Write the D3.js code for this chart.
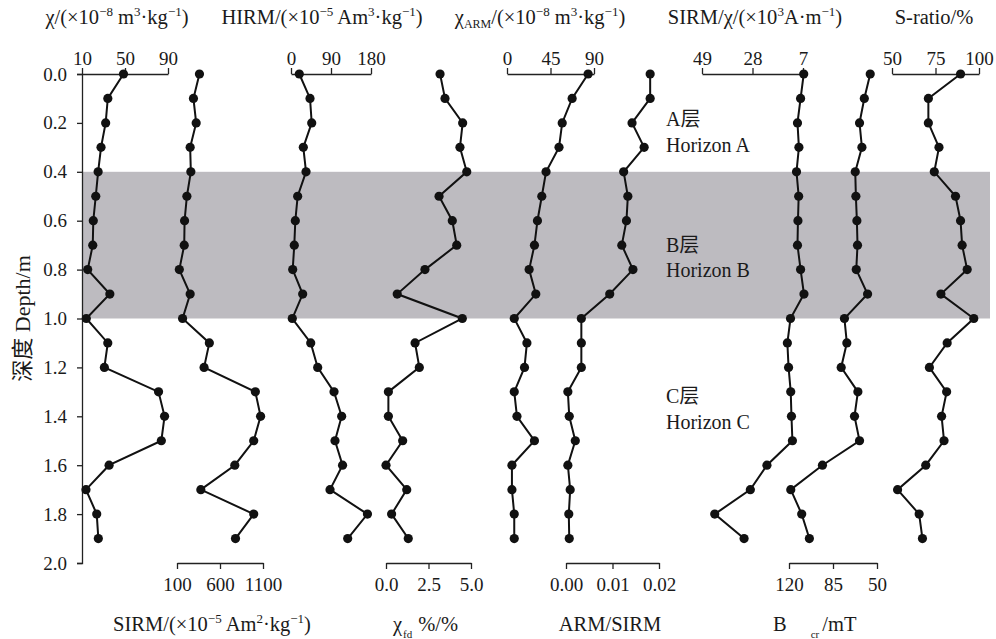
<!DOCTYPE html>
<html>
<head>
<meta charset="utf-8">
<script src="https://cdn.jsdelivr.net/npm/d3@7"></script>
<style>
body { margin: 0; background: #fff; }
svg text { font-family: "Liberation Serif", "Times New Roman", "Noto Sans CJK SC", serif; fill: #1a1a1a; }
.axis path, .axis line { stroke: #222; stroke-width: 1.3; }
</style>
</head>
<body>
<div id="chart"></div>
<script>
// depth of each sample (m)
var depths = [0.0, 0.1, 0.2, 0.3, 0.4, 0.5, 0.6, 0.7, 0.8, 0.9, 1.0, 1.1, 1.2, 1.3, 1.4, 1.5, 1.6, 1.7, 1.8, 1.9];

var chi = [48.6, 34, 32, 27.7, 25, 22.8, 20.5, 20, 15.3, 35.9, 14, 34, 30.8, 81.2, 86.8, 83.8, 35.2, 13.7, 23.7, 25.2];
var sirm = [361, 291, 323, 253, 261, 215, 188, 184, 127, 253, 165, 476, 415, 1011, 1072, 992, 772, 377, 992, 780];
var hirm = [18.7, 42.8, 46.6, 27.7, 33.8, 15, 9.7, 7.4, 3.8, 26.3, 2.9, 44.4, 60, 96.8, 114, 99, 116, 87.8, 172, 127.6];
var chiFd = [3.18, 3.47, 4.51, 4.35, 4.75, 3.12, 3.90, 4.16, 2.29, 0.66, 4.49, 1.71, 1.96, 0.14, 0.14, 0.98, 0.0, 1.22, 0.33, 1.31];
var chiArm = [83.9, 67.4, 57.1, 53.8, 40.4, 36, 31.5, 28.4, 22.9, 29.8, 7.5, 20.6, 18.1, 7.5, 10.3, 28.4, 5.1, 5.1, 7.5, 7.5];
var armSirm = [0.0181, 0.0181, 0.0142, 0.0168, 0.0124, 0.0133, 0.0130, 0.0120, 0.0144, 0.0094, 0.0033, 0.0033, 0.0033, 0.0004, 0.0007, 0.0020, 0.0004, 0.0009, 0.0006, 0.0007];
var sirmChi = [6.7, 8.0, 9.3, 8.7, 9.7, 8.8, 9.1, 9.3, 8.0, 6.6, 12.2, 13.5, 13.0, 12.1, 11.8, 11.4, 22.0, 28.9, 43.7, 31.5];
var bcr = [55.4, 60.1, 63.9, 62, 67.3, 66.8, 66, 65.5, 66.5, 57.5, 75.9, 74, 78.5, 65.2, 67.9, 63.9, 93.4, 118.6, 109.9, 103.8];
var sRatio = [89.4, 70.9, 70.9, 77, 74.3, 86.5, 89.4, 90.3, 93.2, 78.1, 97, 81.7, 71.5, 81.4, 78.5, 79.9, 69.4, 53.2, 65.6, 67.5];

// tick labels
var depthTicks = [0.0, 0.2, 0.4, 0.6, 0.8, 1.0, 1.2, 1.4, 1.6, 1.8, 2.0];
var chiTicks = [10, 50, 90];
var sirmTicks = [100, 600, 1100];
var hirmTicks = [0, 90, 180];
var chiFdTicks = [0, 2.5, 5];
var chiArmTicks = [0, 45, 90];
var armSirmTicks = [0, 0.01, 0.02];
var sirmChiTicks = [49, 28, 7];
var bcrTicks = [120, 85, 50];
var sRatioTicks = [50, 75, 100];

var horizons = [
    { top: 0.0, bottom: 0.4, cn: "A层", en: "Horizon A", textDepth: 0.213, shaded: false },
    { top: 0.4, bottom: 1.0, cn: "B层", en: "Horizon B", textDepth: 0.728, shaded: true },
    { top: 1.0, bottom: 2.0, cn: "C层", en: "Horizon C", textDepth: 1.346, shaded: false }
];

var width = 996, height = 639;
var top0 = 74, bottom0 = 563;
var serif = "'Liberation Serif', 'Times New Roman', 'Noto Sans CJK SC', serif";

var svg = d3.select("#chart").append("svg")
    .attr("width", width)
    .attr("height", height)
    .attr("font-family", serif);

var y = d3.scaleLinear()
    .domain([0, 2])
    .range([top0, bottom0]);

// shaded horizon B
svg.selectAll(".band")
    .data(horizons.filter(function(d) { return d.shaded; }))
    .enter().append("rect")
    .attr("class", "band")
    .attr("x", 82)
    .attr("width", 990 - 82)
    .attr("y", function(d) { return y(d.top); })
    .attr("height", function(d) { return y(d.bottom) - y(d.top); })
    .attr("fill", "#bdbbc0");

// horizon labels
horizons.forEach(function(h) {
    var t = svg.append("text")
        .attr("x", 666)
        .attr("y", y(h.textDepth))
        .attr("font-size", 20);
    t.append("tspan").attr("x", 666).text(h.cn);
    t.append("tspan").attr("x", 666).attr("dy", 25.5).text(h.en);
});

function styleTicks(g) {
    g.attr("font-family", serif);
    g.selectAll("text").attr("font-size", 19).style("fill", "#1a1a1a");
}

// depth axis
var yAxis = d3.axisLeft(y)
    .tickValues(depthTicks)
    .tickSize(5)
    .tickSizeOuter(5)
    .tickPadding(10)
    .tickFormat(d3.format(".1f"));

svg.append("g")
    .attr("class", "axis")
    .attr("transform", "translate(82,0)")
    .call(yAxis)
    .call(styleTicks);

svg.append("text")
    .attr("transform", "translate(30," + ((top0 + bottom0) / 2) + ") rotate(-90)")
    .attr("text-anchor", "middle")
    .attr("font-size", 22)
    .text("深度 Depth/m");

var columns = [
    { values: chi, domain: [10, 90], range: [82, 168], side: "top", ticks: chiTicks, fmt: d3.format("d") },
    { values: sirm, domain: [100, 1100], range: [177, 263], side: "bottom", ticks: sirmTicks, fmt: d3.format("d") },
    { values: hirm, domain: [0, 180], range: [291, 371], side: "top", ticks: hirmTicks, fmt: d3.format("d") },
    { values: chiFd, domain: [0, 5], range: [386, 471], side: "bottom", ticks: chiFdTicks, fmt: d3.format(".1f") },
    { values: chiArm, domain: [0, 90], range: [507, 594], side: "top", ticks: chiArmTicks, fmt: d3.format("d") },
    { values: armSirm, domain: [0, 0.02], range: [566, 659], side: "bottom", ticks: armSirmTicks, fmt: d3.format(".2f") },
    { values: sirmChi, domain: [49, 7], range: [702, 803], side: "top", ticks: sirmChiTicks, fmt: d3.format("d") },
    { values: bcr, domain: [120, 50], range: [789, 877], side: "bottom", ticks: bcrTicks, fmt: d3.format("d") },
    { values: sRatio, domain: [50, 100], range: [892, 979], side: "top", ticks: sRatioTicks, fmt: d3.format("d") }
];

columns.forEach(function(col) {
    var x = d3.scaleLinear().domain(col.domain).range(col.range);

    var axis = (col.side === "top" ? d3.axisTop(x) : d3.axisBottom(x))
        .tickValues(col.ticks)
        .tickSize(6)
        .tickSizeOuter(0)
        .tickPadding(col.side === "top" ? 3 : 9)
        .tickFormat(col.fmt);

    svg.append("g")
        .attr("class", "axis")
        .attr("transform", "translate(0," + (col.side === "top" ? top0 : bottom0) + ")")
        .call(axis)
        .call(styleTicks);

    var pts = depths.map(function(d, i) { return { depth: d, v: col.values[i] }; });

    var line = d3.line()
        .x(function(d) { return x(d.v); })
        .y(function(d) { return y(d.depth); });

    svg.append("path")
        .datum(pts)
        .attr("d", line)
        .attr("fill", "none")
        .attr("stroke", "#111")
        .attr("stroke-width", 2);

    svg.selectAll(null)
        .data(pts)
        .enter().append("circle")
        .attr("cx", function(d) { return x(d.v); })
        .attr("cy", function(d) { return y(d.depth); })
        .attr("r", 4.6)
        .attr("fill", "#111");
});

// axis titles: each part is [text, kind, dx]; kind is "sup", "sub", "low" or "after"
function title(x, yPos, anchor, parts) {
    var t = svg.append("text")
        .attr("x", x)
        .attr("y", yPos)
        .attr("text-anchor", anchor)
        .attr("font-size", 20.5);
    var shift = 0;
    parts.forEach(function(p) {
        var target = 0, size = null, dx = p[2] || 0;
        if (p[1] === "sup") { target = -8; size = 13; }
        if (p[1] === "sub") { target = 4; size = 12; }
        if (p[1] === "low") { target = 7; size = 11; }
        var s = t.append("tspan").attr("dy", target - shift).text(p[0]);
        if (dx) s.attr("dx", dx);
        if (size) s.attr("font-size", size);
        shift = target;
    });
}

title(117, 24, "middle", [["χ/(×10"], ["−8", "sup"], [" m"], ["3", "sup"], ["·kg"], ["−1", "sup"], [")"]]);
title(322, 24, "middle", [["HIRM/(×10"], ["−5", "sup"], [" Am"], ["3", "sup"], ["·kg"], ["−1", "sup"], [")"]]);
title(540, 24, "middle", [["χ"], ["ARM", "sub"], ["/(×10"], ["−8", "sup"], [" m"], ["3", "sup"], ["·kg"], ["−1", "sup"], [")"]]);
title(755, 24, "middle", [["SIRM/χ/(×10"], ["3", "sup"], ["A·m"], ["−1", "sup"], [")"]]);
title(934, 24, "middle", [["S-ratio/%"]]);

title(212, 631, "middle", [["SIRM/(×10"], ["−5", "sup"], [" Am"], ["2", "sup"], ["·kg"], ["−1", "sup"], [")"]]);
title(393, 631, "start", [["χ"], ["fd", "low", 1], ["%/%", "after", 6]]);
title(610, 631, "middle", [["ARM/SIRM"]]);
title(773, 631, "start", [["B"], ["cr", "low", 24], ["/mT", "after", 3]]);
</script>
</body>
</html>
